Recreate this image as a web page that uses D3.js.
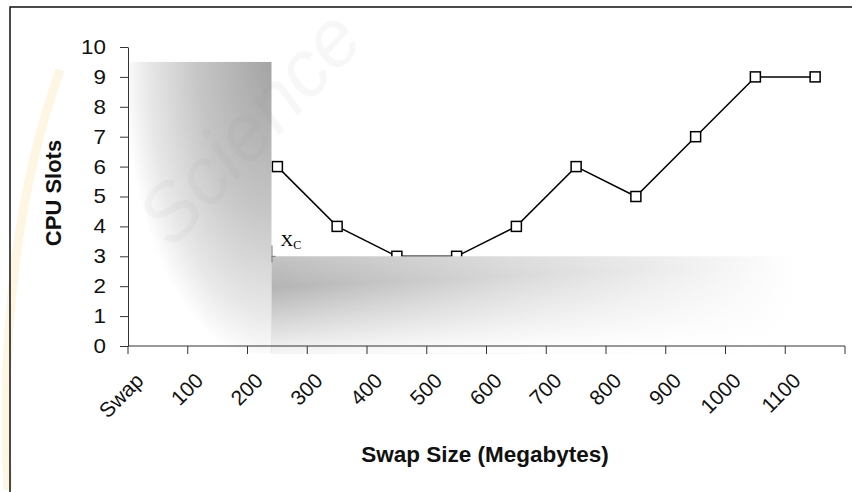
<!DOCTYPE html>
<html><head><meta charset="utf-8">
<script src="https://cdn.jsdelivr.net/npm/d3@7"></script>
<style>body{margin:0;background:#fff;} svg{display:block;}</style>
</head><body>
<svg id="c" width="852" height="492"></svg>
<script>
const categories = ["Swap","100","200","300","400","500","600","700","800","900","1000","1100"];
// first two points are hidden behind the shaded box in the reference
const cpuSlots = [null,null,6,4,3,3,4,6,5,7,9,9];
const yTicks = [0,1,2,3,4,5,6,7,8,9,10];
const yTitle = "CPU Slots";
const xTitle = "Swap Size (Megabytes)";

const svg = d3.select("#c");
const font = "'Liberation Sans', Arial, sans-serif";

const x = d3.scaleBand().domain(categories).range([128, 845]).padding(0);
const y = d3.scaleLinear().domain([0, 10]).range([346, 47]);

const defs = svg.append("defs");
const rg = defs.append("radialGradient").attr("id","rg")
  .attr("cx",1).attr("cy",0).attr("r",1.15).attr("fx",1).attr("fy",0);
rg.append("stop").attr("offset","0").attr("stop-color","#a4a4a4");
rg.append("stop").attr("offset","0.45").attr("stop-color","#c6c6c6");
rg.append("stop").attr("offset","0.75").attr("stop-color","#e8e8e8");
rg.append("stop").attr("offset","0.9").attr("stop-color","#ffffff");
const lg = defs.append("linearGradient").attr("id","lg")
  .attr("x1",0).attr("y1",0).attr("x2",1).attr("y2",0);
lg.append("stop").attr("offset","0").attr("stop-color","#b4b4b4");
lg.append("stop").attr("offset","0.45").attr("stop-color","#d8d8d8");
lg.append("stop").attr("offset","0.8").attr("stop-color","#f0f0f0");
lg.append("stop").attr("offset","1").attr("stop-color","#ffffff");
const vg = defs.append("linearGradient").attr("id","vg")
  .attr("x1",0).attr("y1",0).attr("x2",0.25).attr("y2",1);
vg.append("stop").attr("offset","0").attr("stop-color","#fff").attr("stop-opacity",0.2);
vg.append("stop").attr("offset","0.3").attr("stop-color","#fff").attr("stop-opacity",0);
vg.append("stop").attr("offset","1").attr("stop-color","#fff").attr("stop-opacity",0.95);

// faint yellow watermark arc
svg.append("path").attr("d","M 8 490 Q -4 250 60 70").attr("fill","none")
  .attr("stroke","#f8e6b0").attr("stroke-width",9).attr("opacity",0.35);

// frame
svg.append("rect").attr("x",10).attr("y",7).attr("width",900).attr("height",600)
  .attr("fill","none").attr("stroke","#111").attr("stroke-width",1.5);

// line + markers
const line = d3.line().defined(d => d.v != null)
  .x(d => x(d.c) + x.bandwidth()/2).y(d => y(d.v));
const pts = categories.map((c,i) => ({c, v: cpuSlots[i]}));
svg.append("path").datum(pts).attr("d", line)
  .attr("fill","none").attr("stroke","#000").attr("stroke-width",1.5);
svg.selectAll("rect.m").data(pts.filter(d => d.v != null)).enter().append("rect")
  .attr("class","m")
  .attr("x", d => x(d.c) + x.bandwidth()/2 - 5)
  .attr("y", d => y(d.v) - 5)
  .attr("width",10).attr("height",10)
  .attr("fill","#fff").attr("stroke","#000").attr("stroke-width",1.5);

// shaded boxes (drawn over the series)
const xc = x("200");
svg.append("rect").attr("x", x("Swap")).attr("y", y(9.5))
  .attr("width", xc + 24 - x("Swap")).attr("height", y(-0.24) - y(9.5))
  .attr("fill","url(#rg)");
svg.append("rect").attr("x", xc + 24).attr("y", y(3))
  .attr("width", 523).attr("height", y(-0.24) - y(3))
  .attr("fill","url(#lg)");
svg.append("rect").attr("x", xc + 24).attr("y", y(3))
  .attr("width", 523).attr("height", y(-0.24) - y(3))
  .attr("fill","url(#vg)");
svg.append("line").attr("x1", xc + 24.5).attr("x2", xc + 24.5)
  .attr("y1", y(3.36)).attr("y2", y(2.8)).attr("stroke","#777").attr("stroke-width",1);
svg.append("line").attr("x1", xc + 24).attr("x2", xc + 28)
  .attr("y1", y(3)).attr("y2", y(3)).attr("stroke","#777").attr("stroke-width",1);

// faint "Science" watermark on top
svg.append("text").text("Science")
  .attr("transform","translate(172,250) rotate(-47)")
  .attr("font-family",font).attr("font-size",80).attr("font-style","italic")
  .attr("fill","#8a8a8a").attr("opacity",0.06);

// Xc label
const xcl = svg.append("text").attr("x", xc + 33).attr("y", y(3.33))
  .attr("font-family","'Liberation Serif','Times New Roman',serif").attr("font-size",17.5).attr("fill","#000");
xcl.append("tspan").text("X");
xcl.append("tspan").text("C").attr("font-size",12).attr("dy",3);

// axes
const sx = 1.12;
const yAxis = svg.append("g").attr("transform","translate(128,0)")
  .call(d3.axisLeft(y).tickValues(yTicks).tickSize(8).tickPadding(13).tickSizeOuter(0));
yAxis.select(".domain").attr("stroke","#333");
yAxis.selectAll(".tick line").attr("stroke","#333");
yAxis.selectAll(".tick text").attr("font-family",font).attr("font-size",20).attr("fill","#111")
  .attr("x", -22 / sx).attr("transform", `scale(${sx},1)`);

const xAxis = svg.append("g").attr("transform","translate(0,346)");
xAxis.append("line").attr("x1",128).attr("x2",845).attr("stroke","#333");
const bounds = categories.map(c => x(c)).concat([x.range()[1]]);
xAxis.selectAll("line.t").data(bounds).enter().append("line").attr("class","t")
  .attr("x1", d => d).attr("x2", d => d).attr("y1",0).attr("y2",8).attr("stroke","#333");
xAxis.selectAll("text").data(categories).enter().append("text")
  .attr("transform", d => `translate(${x(d) + x.bandwidth()/2 - 13},36) rotate(-45)`)
  .attr("text-anchor","end")
  .attr("font-family",font).attr("font-size",21).attr("fill","#111")
  .text(d => d);

// titles
svg.append("text").text(yTitle)
  .attr("transform","translate(61,193) rotate(-90)")
  .attr("text-anchor","middle").attr("font-family",font).attr("font-weight","bold")
  .attr("font-size",22).attr("fill","#111");
svg.append("text").text(xTitle)
  .attr("x",485).attr("y",462)
  .attr("text-anchor","middle").attr("font-family",font).attr("font-weight","bold")
  .attr("font-size",22.5).attr("fill","#111");
</script>
</body></html>
